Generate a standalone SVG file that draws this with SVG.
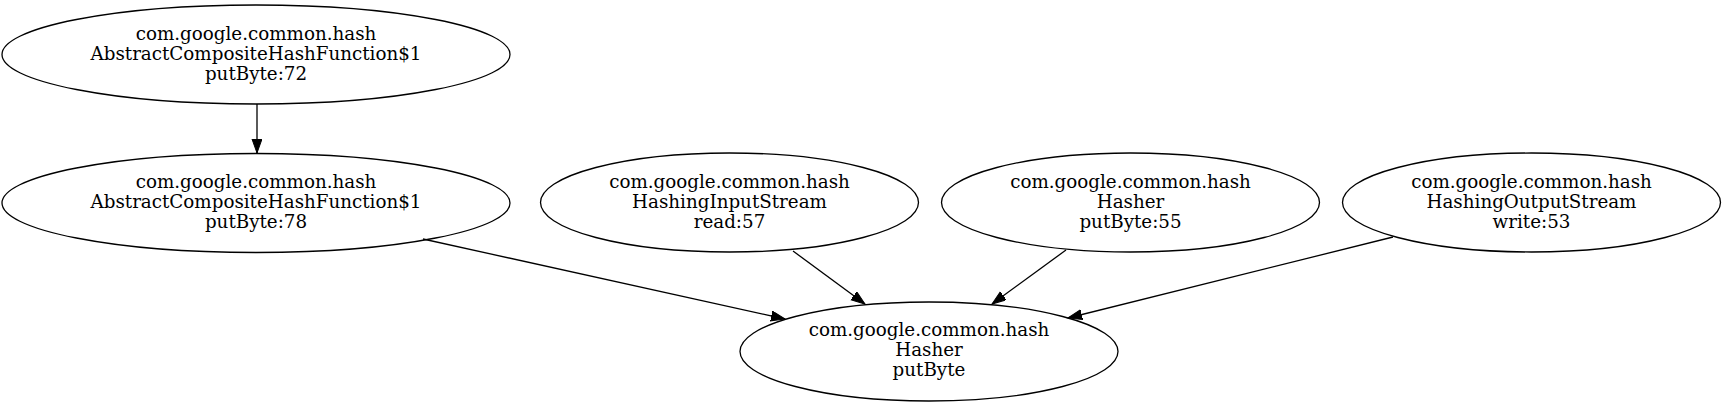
<svg xmlns="http://www.w3.org/2000/svg" width="1725" height="406" viewBox="0 0 1725 406">
<style>
.n ellipse{fill:none;stroke:#000;stroke-width:1.3}
.n text{font-family:"DejaVu Serif","Liberation Serif",serif;font-size:18.3px;fill:#000;text-anchor:middle}
.e path{fill:none;stroke:#000;stroke-width:1.3;marker-end:url(#arr)}
</style>
<defs>
<marker id="arr" markerUnits="userSpaceOnUse" markerWidth="16" markerHeight="12" refX="14" refY="5" orient="auto">
<polygon points="0,0 14,5 0,10" fill="#000" stroke="#000" stroke-width="1"/>
</marker>
</defs>
<rect width="1725" height="406" fill="#fff"/>
<g class="e" id="edges">
<path d="M257,104 L257,153"/>
<path d="M423,239 L785,319"/>
<path d="M793,251 L865,304"/>
<path d="M1066,250 L992,304"/>
<path d="M1393,237 L1068,318"/>
</g>
<g class="n" id="n1">
<ellipse cx="256" cy="54.5" rx="254" ry="49.5"/>
<text x="256" y="39.5">com.google.common.hash</text>
<text x="256" y="59.5">AbstractCompositeHashFunction$1</text>
<text x="256" y="79.5">putByte:72</text>
</g>
<g class="n" id="n2">
<ellipse cx="256" cy="203" rx="254" ry="49.5"/>
<text x="256" y="188">com.google.common.hash</text>
<text x="256" y="208">AbstractCompositeHashFunction$1</text>
<text x="256" y="228">putByte:78</text>
</g>
<g class="n" id="n3">
<ellipse cx="729.5" cy="202.5" rx="189" ry="49.5"/>
<text x="729.5" y="187.5">com.google.common.hash</text>
<text x="729.5" y="207.5">HashingInputStream</text>
<text x="729.5" y="227.5">read:57</text>
</g>
<g class="n" id="n4">
<ellipse cx="1130.5" cy="202.5" rx="189" ry="49.5"/>
<text x="1130.5" y="187.5">com.google.common.hash</text>
<text x="1130.5" y="207.5">Hasher</text>
<text x="1130.5" y="227.5">putByte:55</text>
</g>
<g class="n" id="n5">
<ellipse cx="1531.5" cy="202.5" rx="189" ry="49.5"/>
<text x="1531.5" y="187.5">com.google.common.hash</text>
<text x="1531.5" y="207.5">HashingOutputStream</text>
<text x="1531.5" y="227.5">write:53</text>
</g>
<g class="n" id="n6">
<ellipse cx="929" cy="351.5" rx="189" ry="49.5"/>
<text x="929" y="336">com.google.common.hash</text>
<text x="929" y="356">Hasher</text>
<text x="929" y="376">putByte</text>
</g>
</svg>
